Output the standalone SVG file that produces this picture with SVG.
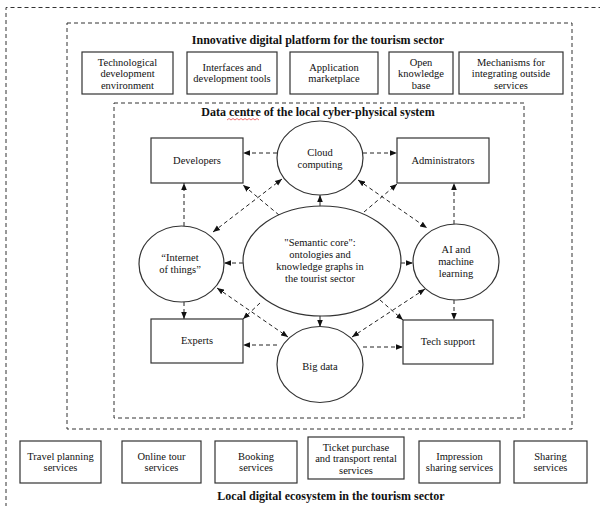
<svg xmlns="http://www.w3.org/2000/svg" width="600" height="506" viewBox="0 0 600 506">
<style>
text{font-family:"Liberation Serif","Times New Roman",serif;fill:#111;text-anchor:middle}
.t{font-size:10.5px}
.h{font-size:12px;font-weight:bold}
.box{fill:#fff;stroke:#333;stroke-width:1.2}
.ell{fill:#fff;stroke:#333;stroke-width:1.2}
.frame{fill:none;stroke:#333;stroke-width:1;stroke-dasharray:4,3}
.c path{fill:none;stroke:#222;stroke-width:1;stroke-dasharray:4,3}
</style>
<defs>
<marker id="ah" viewBox="0 0 8 8" refX="8" refY="4" markerWidth="7" markerHeight="7" orient="auto-start-reverse" markerUnits="userSpaceOnUse"><path d="M0,0.8 L8,4 L0,7.2 z" fill="#111"/></marker>
</defs>
<rect width="600" height="506" fill="#fff"/>

<!-- frames -->
<path id="ecosystem-frame" class="frame" d="M6,507 V7.5 H601"/>
<rect id="platform-frame" class="frame" x="67" y="23" width="505" height="406"/>
<rect id="datacentre-frame" class="frame" x="114" y="103" width="410" height="315"/>

<text class="h" x="318" y="44">Innovative digital platform for the tourism sector</text>
<text class="h" x="318" y="116">Data centre of the local cyber-physical system</text>
<path d="M227,120 l2,-1.5 l2,1.5 l2,-1.5 l2,1.5 l2,-1.5 l2,1.5 l2,-1.5 l2,1.5 l2,-1.5 l2,1.5 l2,-1.5 l2,1.5 l2,-1.5 l2,1.5 l2,-1.5 l2,1.5" fill="none" stroke="#e33" stroke-width="0.7"/>
<text class="h" x="331" y="500">Local digital ecosystem in the tourism sector</text>

<!-- platform boxes -->
<g id="tech-env"><rect class="box" x="82" y="52" width="91" height="42"/>
<text class="t" x="127.5" y="65.5">Technological</text><text class="t" x="127.5" y="77">development</text><text class="t" x="127.5" y="88.5">environment</text></g>
<g id="interfaces"><rect class="box" x="187" y="52" width="90" height="42"/>
<text class="t" x="232" y="70.5">Interfaces and</text><text class="t" x="232" y="82">development tools</text></g>
<g id="marketplace"><rect class="box" x="290" y="52" width="88" height="42"/>
<text class="t" x="334" y="70.5">Application</text><text class="t" x="334" y="82">marketplace</text></g>
<g id="knowledge-base"><rect class="box" x="389" y="52" width="64" height="42"/>
<text class="t" x="421" y="65.5">Open</text><text class="t" x="421" y="77">knowledge</text><text class="t" x="421" y="88.5">base</text></g>
<g id="mechanisms"><rect class="box" x="459" y="52" width="104" height="42"/>
<text class="t" x="511" y="65.5">Mechanisms for</text><text class="t" x="511" y="77">integrating outside</text><text class="t" x="511" y="88.5">services</text></g>

<!-- connectors -->
<g id="connectors" class="c">
<path d="M277,153 H243" marker-end="url(#ah)"/>
<path d="M363,153 H397" marker-end="url(#ah)"/>
<path d="M320,206 V195" marker-end="url(#ah)"/>
<path d="M243,263 H224" marker-end="url(#ah)"/>
<path d="M401,263 H413" marker-end="url(#ah)"/>
<path d="M184,226 V183" marker-end="url(#ah)"/>
<path d="M454,224 V183" marker-end="url(#ah)"/>
<path d="M184,302 V319" marker-end="url(#ah)"/>
<path d="M454,300 V320" marker-end="url(#ah)"/>
<path d="M320,316 V327" marker-end="url(#ah)"/>
<path d="M277,345 H243" marker-end="url(#ah)"/>
<path d="M363,347 H403" marker-end="url(#ah)"/>
<path d="M279,215 L243,185" marker-end="url(#ah)"/>
<path d="M364,212 L397,184" marker-end="url(#ah)"/>
<path d="M260,303 L243,319" marker-end="url(#ah)"/>
<path d="M380,300 L403,320" marker-end="url(#ah)"/>
<path d="M213,232 L282,179" marker-start="url(#ah)" marker-end="url(#ah)"/>
<path d="M358,180 L427,228" marker-start="url(#ah)" marker-end="url(#ah)"/>
<path d="M217,288 L288,337" marker-start="url(#ah)" marker-end="url(#ah)"/>
<path d="M425,289 L352,337" marker-start="url(#ah)" marker-end="url(#ah)"/>
</g>

<!-- data centre nodes -->
<g id="developers"><rect class="box" x="151" y="138" width="92" height="45"/><text class="t" x="197" y="164">Developers</text></g>
<g id="administrators"><rect class="box" x="397" y="138" width="92" height="45"/><text class="t" x="443" y="164">Administrators</text></g>
<g id="cloud"><ellipse class="ell" cx="320" cy="158" rx="43" ry="37"/><text class="t" x="320" y="156">Cloud</text><text class="t" x="320" y="168">computing</text></g>
<g id="semantic-core"><ellipse class="ell" cx="322" cy="261" rx="79" ry="55"/>
<text class="t" x="320" y="246">"Semantic core":</text><text class="t" x="320" y="258">ontologies and</text><text class="t" x="320" y="270">knowledge graphs in</text><text class="t" x="320" y="282">the tourist sector</text></g>
<g id="iot"><ellipse class="ell" cx="181.5" cy="264" rx="42.5" ry="38"/><text class="t" x="180" y="261">“Internet</text><text class="t" x="180" y="273">of things”</text></g>
<g id="ai"><ellipse class="ell" cx="456" cy="262" rx="43" ry="38"/><text class="t" x="456" y="253">AI and</text><text class="t" x="456" y="265">machine</text><text class="t" x="456" y="277">learning</text></g>
<g id="experts"><rect class="box" x="151" y="319" width="92" height="44"/><text class="t" x="197" y="344">Experts</text></g>
<g id="tech-support"><rect class="box" x="403" y="320" width="90" height="44"/><text class="t" x="448" y="345">Tech support</text></g>
<g id="big-data"><ellipse class="ell" cx="320" cy="364.5" rx="43" ry="38"/><text class="t" x="320" y="370">Big data</text></g>

<!-- ecosystem services -->
<g id="travel-planning"><rect class="box" x="20" y="441" width="81" height="42"/><text class="t" x="60.5" y="459.5">Travel planning</text><text class="t" x="60.5" y="471">services</text></g>
<g id="online-tour"><rect class="box" x="122" y="441" width="79" height="42"/><text class="t" x="161.5" y="459.5">Online tour</text><text class="t" x="161.5" y="471">services</text></g>
<g id="booking"><rect class="box" x="215" y="441" width="82" height="42"/><text class="t" x="256" y="459.5">Booking</text><text class="t" x="256" y="471">services</text></g>
<g id="ticket-purchase"><rect class="box" x="308" y="437" width="96" height="42"/><text class="t" x="356" y="450.5">Ticket purchase</text><text class="t" x="356" y="462">and transport rental</text><text class="t" x="356" y="473.5">services</text></g>
<g id="impression-sharing"><rect class="box" x="419" y="441" width="81" height="42"/><text class="t" x="459.5" y="459.5">Impression</text><text class="t" x="459.5" y="471">sharing services</text></g>
<g id="sharing"><rect class="box" x="514" y="441" width="73" height="42"/><text class="t" x="550.5" y="459.5">Sharing</text><text class="t" x="550.5" y="471">services</text></g>
</svg>
